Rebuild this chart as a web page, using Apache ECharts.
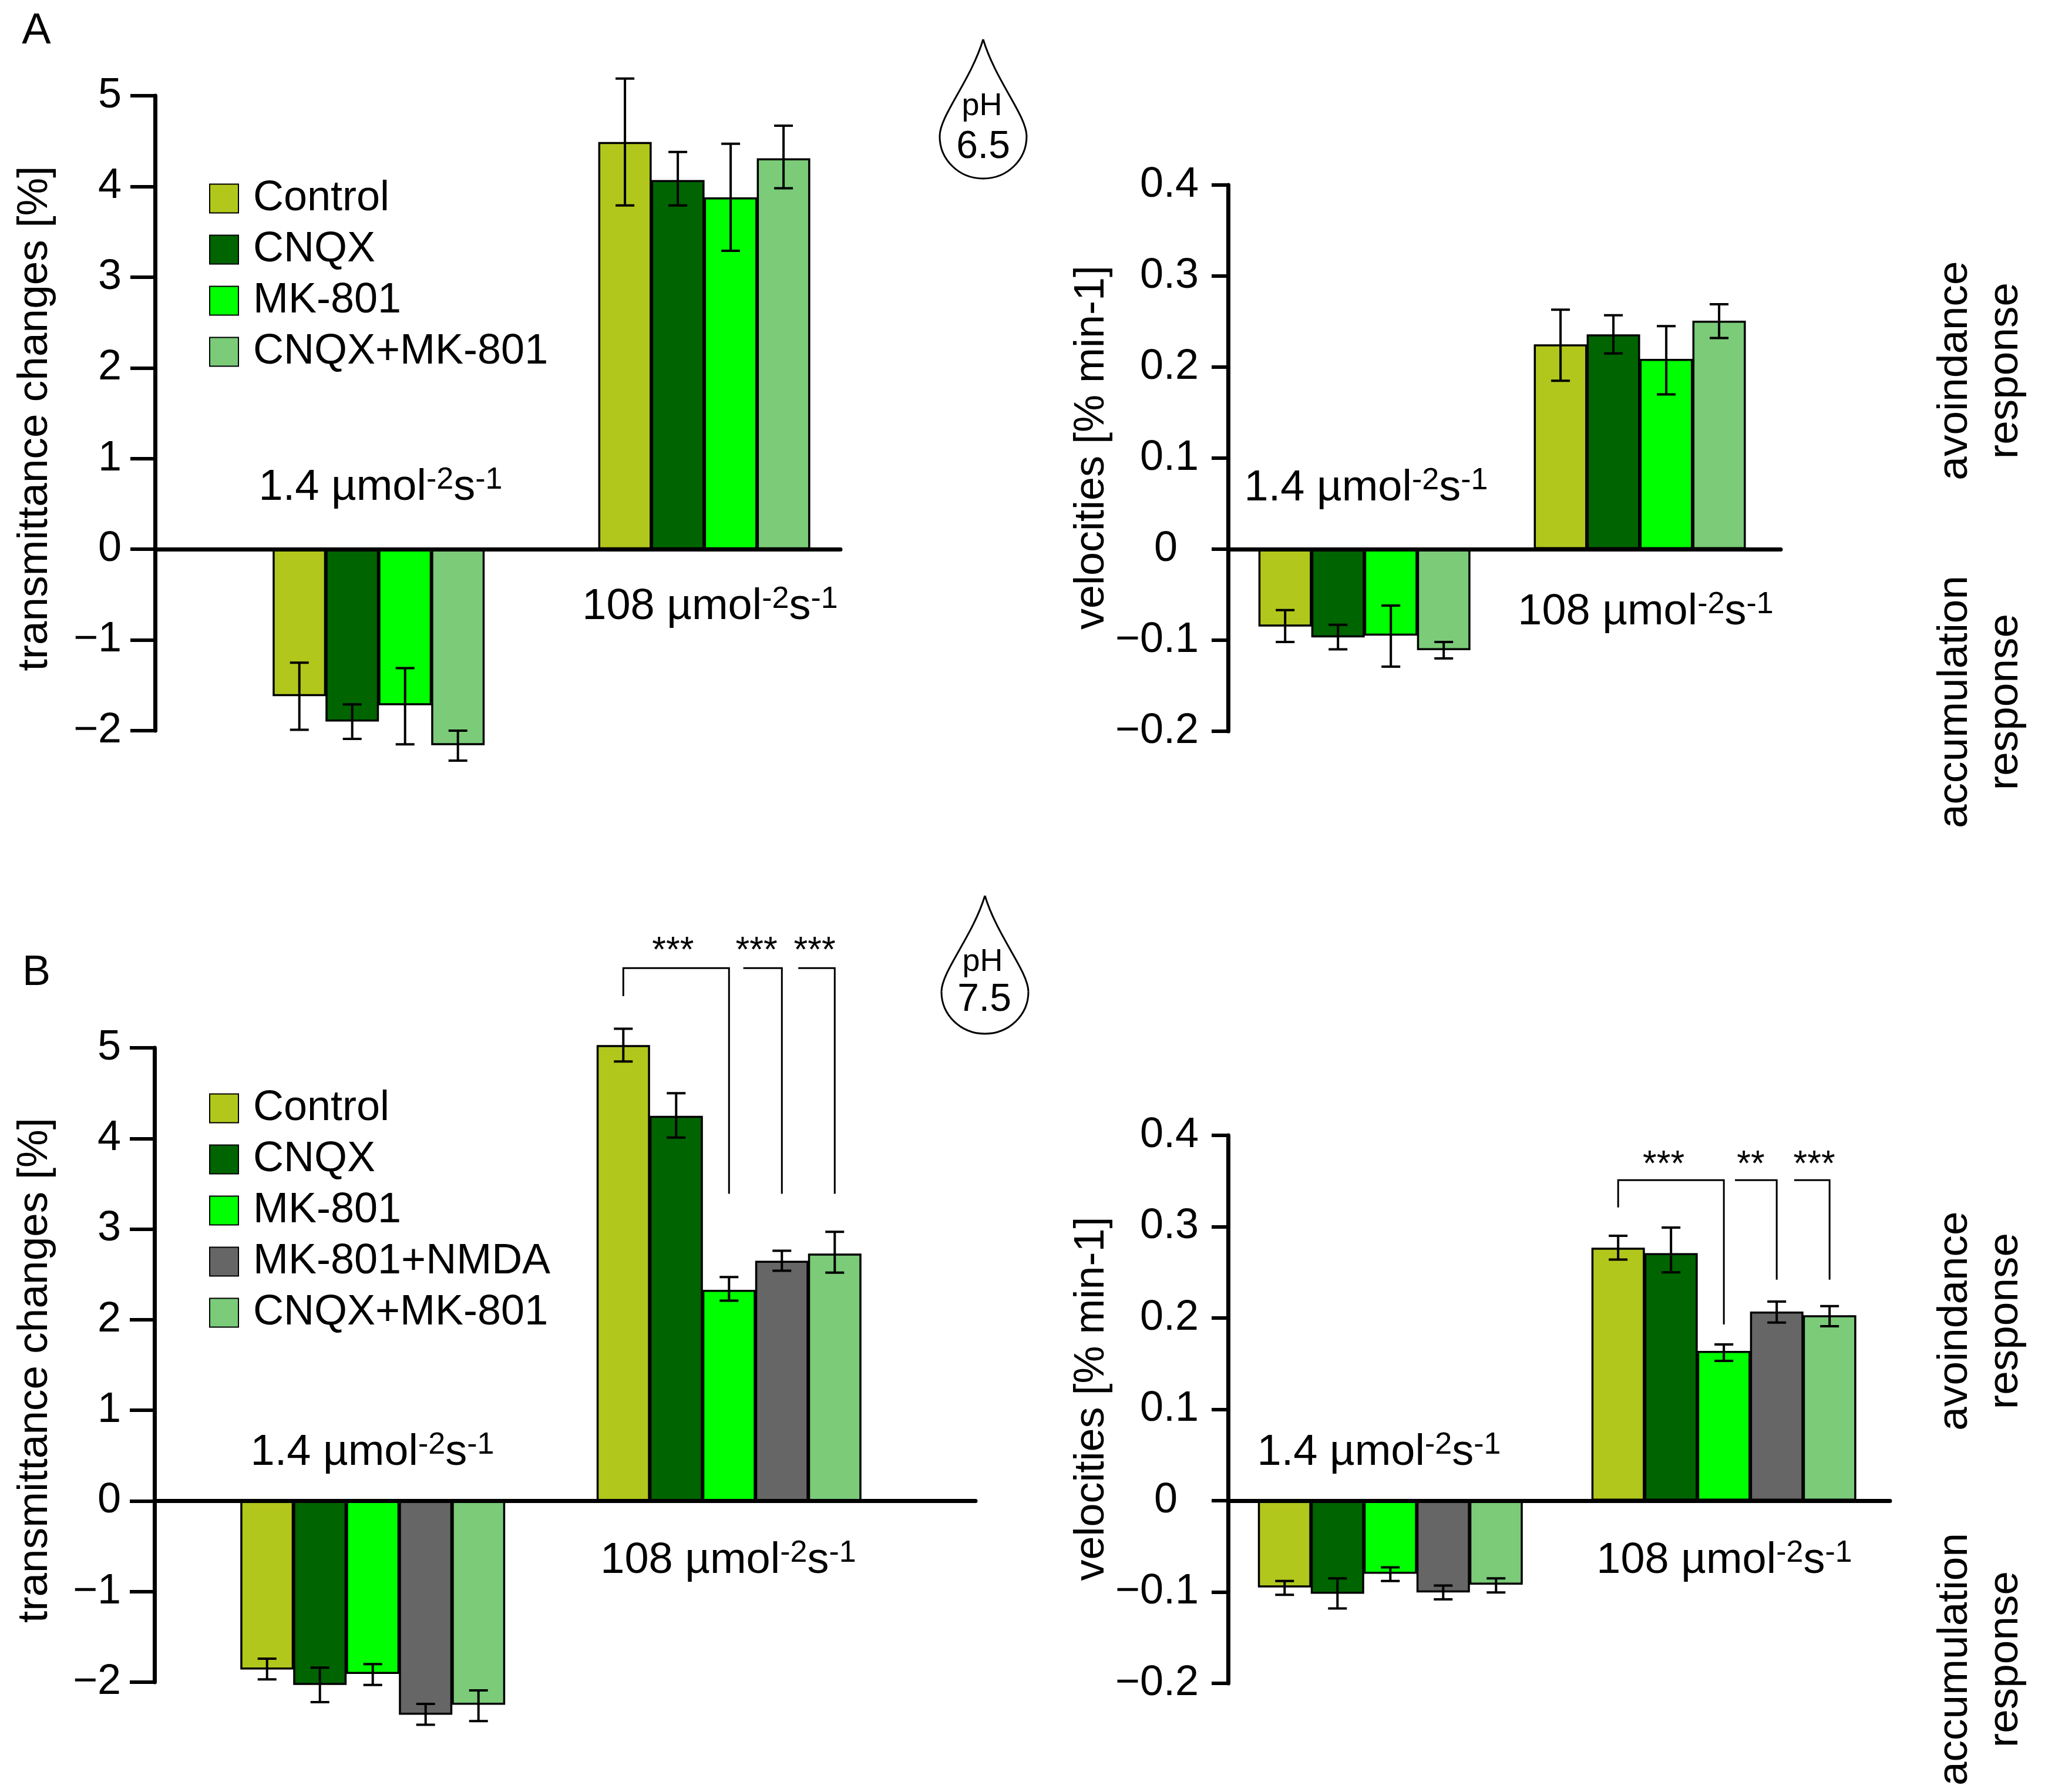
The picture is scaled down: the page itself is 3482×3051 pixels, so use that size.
<!DOCTYPE html>
<html><head><meta charset="utf-8">
<script src="https://cdn.jsdelivr.net/npm/echarts@6/dist/echarts.min.js"></script>
<style>html,body{margin:0;padding:0;background:#fff}#c{width:3482px;height:3051px}</style>
</head><body><div id="c"></div>
<script>
// ---------- data ----------
const treatmentsA = ['Control', 'CNQX', 'MK-801', 'CNQX+MK-801'];
const treatmentsB = ['Control', 'CNQX', 'MK-801', 'MK-801+NMDA', 'CNQX+MK-801'];

const aTransLow   = [-1.62, -1.90, -1.72, -2.16];
const aTransLowLo = [-1.99, -2.09, -2.15, -2.33];
const aTransLowHi = [-1.25, -1.71, -1.31, -2.00];
const aTransHigh   = [4.49, 4.07, 3.88, 4.31];
const aTransHighLo = [3.79, 3.79, 3.29, 3.98];
const aTransHighHi = [5.19, 4.38, 4.47, 4.67];

const aVelLow   = [-0.085, -0.097, -0.095, -0.111];
const aVelLowLo = [-0.102, -0.110, -0.129, -0.120];
const aVelLowHi = [-0.067, -0.083, -0.062, -0.102];
const aVelHigh   = [0.225, 0.236, 0.209, 0.251];
const aVelHighLo = [0.185, 0.215, 0.170, 0.232];
const aVelHighHi = [0.263, 0.257, 0.245, 0.269];

const bTransLow   = [-1.86, -2.03, -1.91, -2.36, -2.25];
const bTransLowLo = [-1.97, -2.22, -2.03, -2.47, -2.43];
const bTransLowHi = [-1.74, -1.84, -1.80, -2.24, -2.09];
const bTransHigh   = [5.03, 4.25, 2.33, 2.65, 2.73];
const bTransHighLo = [4.85, 4.01, 2.21, 2.54, 2.52];
const bTransHighHi = [5.21, 4.50, 2.47, 2.76, 2.97];

const bVelLow   = [-0.095, -0.102, -0.080, -0.1005, -0.092];
const bVelLowLo = [-0.103, -0.118, -0.088, -0.108, -0.1005];
const bVelLowHi = [-0.088, -0.085, -0.073, -0.093, -0.085];
const bVelHigh   = [0.277, 0.271, 0.164, 0.207, 0.203];
const bVelHighLo = [0.264, 0.250, 0.153, 0.195, 0.191];
const bVelHighHi = [0.290, 0.299, 0.171, 0.218, 0.213];

// significance brackets: x in bar slots, y in axis units
const bTransBrackets = [
  {stars:'***', x0:8.87, y0:5.57, x1:10.87, top:5.88, y1:3.39, sx:9.81, sy:6.06},
  {stars:'***', x0:11.14, y0:5.88, x1:11.87, top:5.88, y1:3.39, sx:11.39, sy:6.06},
  {stars:'***', x0:12.18, y0:5.88, x1:12.87, top:5.88, y1:3.39, sx:12.49, sy:6.06}
];
const bVelBrackets = [
  {stars:'***', x0:7.38, y0:0.321, x1:9.38, top:0.351, y1:0.193, sx:8.24, sy:0.367},
  {stars:'**',  x0:9.59, y0:0.351, x1:10.38, top:0.351, y1:0.242, sx:9.89, sy:0.367},
  {stars:'***', x0:10.71, y0:0.351, x1:11.38, top:0.351, y1:0.242, sx:11.09, sy:0.367}
];

// ---------- style ----------
const FONT = '"Liberation Sans", Arial, sans-serif';
const colors = {
  'Control': '#B2C71C', 'CNQX': '#006400', 'MK-801': '#00FF00',
  'MK-801+NMDA': '#666666', 'CNQX+MK-801': '#7BCB79'
};
const BAR = 90;

const panels = [
  {left:264, right:1431, top:163, bottom:1244, min:-2, max:5, interval:1, tick:42, margin:57, padZero:false,
   names:treatmentsA, groups:[2.23, 8.39], low:aTransLow, lowLo:aTransLowLo, lowHi:aTransLowHi,
   high:aTransHigh, highLo:aTransHighLo, highHi:aTransHighHi, title:'transmittance changes [%]', nameX:60,
   nameSize:73, namePad:[0,18,0,0]},
  {left:2091, right:3032, top:315, bottom:1245, min:-0.2, max:0.4, interval:0.1, tick:28, margin:50, padZero:true,
   names:treatmentsA, groups:[0.58, 5.79], low:aVelLow, lowLo:aVelLowLo, lowHi:aVelLowHi,
   high:aVelHigh, highLo:aVelHighLo, highHi:aVelHighHi, title:'velocities [% min-1]', nameX:1864,
   nameSize:72, namePad:[0,0,0,36]},
  {left:263, right:1661, top:1784, bottom:2864, min:-2, max:5, interval:1, tick:42, margin:57, padZero:false,
   names:treatmentsB, groups:[1.63, 8.37], low:bTransLow, lowLo:bTransLowLo, lowHi:bTransLowHi,
   high:bTransHigh, highLo:bTransHighLo, highHi:bTransHighHi, title:'transmittance changes [%]', nameX:60,
   nameSize:73, namePad:[0,18,0,0], brackets:bTransBrackets},
  {left:2091, right:3218, top:1933, bottom:2866, min:-0.2, max:0.4, interval:0.1, tick:28, margin:50, padZero:true,
   names:treatmentsB, groups:[0.57, 6.88], low:bVelLow, lowLo:bVelLowLo, lowHi:bVelLowHi,
   high:bVelHigh, highLo:bVelHighLo, highHi:bVelHighHi, title:'velocities [% min-1]', nameX:1864,
   nameSize:72, namePad:[0,0,0,36], brackets:bVelBrackets}
];

const grid = [], xAxis = [], yAxis = [], series = [];

panels.forEach((p, k) => {
  grid.push({left:p.left, top:p.top, width:p.right - p.left, height:p.bottom - p.top,
    containLabel:false, outerBoundsMode:'none'});
  xAxis.push({
    type:'value', gridIndex:k, min:0, max:(p.right - p.left) / BAR, z:5,
    axisLine:{show:true, onZero:true, lineStyle:{color:'#000', width:7}},
    axisTick:{show:false}, axisLabel:{show:false}, splitLine:{show:false}
  });
  yAxis.push({
    type:'value', gridIndex:k, min:p.min, max:p.max, interval:p.interval, z:5,
    name:p.title, nameLocation:'middle', nameRotate:90,
    nameGap:p.left - p.nameX - 36,
    nameTextStyle:{fontFamily:FONT, fontSize:p.nameSize, color:'#000', padding:p.namePad},
    axisLine:{show:true, onZero:false, lineStyle:{color:'#000', width:7}},
    axisTick:{show:true, length:p.tick, lineStyle:{color:'#000', width:6}},
    splitLine:{show:false},
    axisLabel:{fontFamily:FONT, fontSize:72, color:'#000', margin:p.margin,
      formatter:v => Math.abs(v) < 1e-9 ? (p.padZero ? '0\u2002' : '0') : String(v).replace('-', '\u2212')}
  });

  const errData = [];
  p.names.forEach((name, i) => {
    const xa = p.groups[0] + i + 0.5, xb = p.groups[1] + i + 0.5;
    series.push({
      type:'bar', name:name, xAxisIndex:k, yAxisIndex:k, barWidth:BAR + 1, barGap:'-100%', clip:false,
      itemStyle:{color:colors[name], borderColor:'#000', borderWidth:3.5},
      data:[[xa, p.low[i]], [xb, p.high[i]]], z:2, animation:false
    });
    errData.push([xa, p.lowLo[i], p.lowHi[i]], [xb, p.highLo[i], p.highHi[i]]);
  });

  series.push({
    type:'custom', name:'error ' + k, xAxisIndex:k, yAxisIndex:k, z:4, clip:false, silent:true,
    encode:{x:0, y:[1, 2]}, data:errData, animation:false,
    renderItem:(params, api) => {
      const lo = api.coord([api.value(0), api.value(1)]);
      const hi = api.coord([api.value(0), api.value(2)]);
      const c = 16, st = {stroke:'#000', lineWidth:4, fill:null};
      return {type:'group', children:[
        {type:'line', shape:{x1:lo[0], y1:lo[1], x2:hi[0], y2:hi[1]}, style:st},
        {type:'line', shape:{x1:lo[0]-c, y1:lo[1], x2:lo[0]+c, y2:lo[1]}, style:st},
        {type:'line', shape:{x1:hi[0]-c, y1:hi[1], x2:hi[0]+c, y2:hi[1]}, style:st}
      ]};
    }
  });

  if (p.brackets) {
    series.push({
      type:'custom', name:'significance ' + k, xAxisIndex:k, yAxisIndex:k, z:4, clip:false, silent:true,
      data:p.brackets.map(b => [b.x0, b.y0]),
      encode:{x:0, y:1}, animation:false,
      renderItem:(params, api) => {
        const b = p.brackets[params.dataIndex];
        const a = api.coord([b.x0, b.y0]), t0 = api.coord([b.x0, b.top]),
              t1 = api.coord([b.x1, b.top]), e = api.coord([b.x1, b.y1]), s = api.coord([b.sx, b.sy]);
        return {type:'group', children:[
          {type:'polyline', shape:{points:[a, t0, t1, e]}, style:{stroke:'#000', lineWidth:3, fill:null}},
          {type:'text', style:{text:b.stars, x:s[0], y:s[1], align:'center', verticalAlign:'middle',
            fontFamily:FONT, fontSize:61, fill:'#000'}}
        ]};
      }
    });
  }
});

const legendBase = {orient:'vertical', icon:'rect', itemWidth:49, itemHeight:49, selectedMode:false, padding:0,
  textStyle:{fontFamily:FONT, fontSize:72, color:'#000', padding:[0,0,0,20]}};
const legend = [
  Object.assign({}, legendBase, {left:356, top:302, itemGap:15, data:treatmentsA}),
  Object.assign({}, legendBase, {left:356, top:1851, itemGap:15, data:treatmentsB})
];

// ---------- annotations ----------
function plain(text, x, y, size, extra) {
  return Object.assign({type:'text', silent:true, style:{text, x, y, align:'center', verticalAlign:'middle',
    fontFamily:FONT, fontSize:size, fill:'#000'}}, extra || {});
}
function intensity(label, x, baseline) {
  return {type:'text', silent:true, style:{
    text:`{a|${label} µmol}{s|-2}{a|s}{s|-1}`, x, y:baseline - 61, align:'center', verticalAlign:'top',
    rich:{a:{fontFamily:FONT, fontSize:74, fill:'#000', lineHeight:76, verticalAlign:'bottom'},
          s:{fontFamily:FONT, fontSize:52, fill:'#000', lineHeight:76, verticalAlign:'top'}}
  }};
}
function rotated(text, x, y) {
  return plain(text, 0, 0, 73, {x, y, rotation:Math.PI / 2});
}
function drop(x, y, w, h) {
  const X = v => x + v * w / 148, Y = v => y + v * h / 237;
  const seg = (a, b, c, d, e, f, g, i) => ({type:'bezierCurve', silent:true,
    shape:{x1:X(a), y1:Y(b), cpx1:X(c), cpy1:Y(d), cpx2:X(e), cpy2:Y(f), x2:X(g), y2:Y(i)},
    style:{fill:null, stroke:'#000', lineWidth:3}});
  return [seg(74,0,95,70,148,130,148,165), seg(148,165,148,205,115,237,74,237),
          seg(74,237,33,237,0,205,0,165), seg(0,165,0,130,53,70,74,0)];
}
const graphic = [
  plain('A', 62, 54, 74), plain('B', 62, 1657, 72),
  ...drop(1600, 67, 148, 237), plain('pH', 1672, 181, 54), plain('6.5', 1674, 251, 66),
  ...drop(1603, 1525, 148, 235), plain('pH', 1673, 1638, 54), plain('7.5', 1676, 1703, 66),
  intensity('1.4', 648, 853), intensity('108', 1209, 1056),
  intensity('1.4', 2326, 854), intensity('108', 2802, 1065),
  intensity('1.4', 634, 2496), intensity('108', 1240, 2680),
  intensity('1.4', 2348, 2496), intensity('108', 2936, 2680),
  rotated('avoindance', 3329, 631), rotated('response', 3415, 631),
  rotated('accumulation', 3329, 1195), rotated('response', 3415, 1195),
  rotated('avoindance', 3329, 2249), rotated('response', 3415, 2249),
  rotated('accumulation', 3329, 2825), rotated('response', 3415, 2825)
];

const chart = echarts.init(document.getElementById('c'), null, {renderer:'canvas', width:3482, height:3051});
chart.setOption({animation:false, backgroundColor:'#fff', grid, xAxis, yAxis, series, legend, graphic, tooltip:{show:false}});
</script></body></html>
